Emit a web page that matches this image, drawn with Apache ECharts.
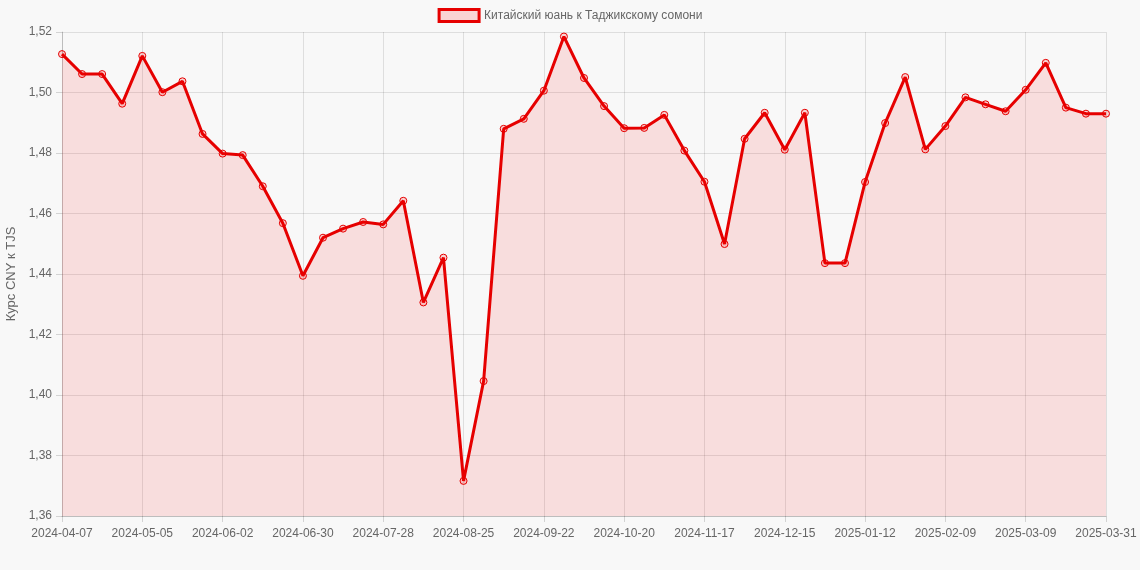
<!DOCTYPE html>
<html>
<head>
<meta charset="utf-8">
<script src="https://cdn.jsdelivr.net/npm/echarts@6/dist/echarts.min.js"></script>
<style>
html,body{margin:0;padding:0;background:#f8f8f8;}
#chart{width:1140px;height:570px;}
</style>
</head>
<body>
<div id="chart"></div>
<script>
const dates = [
  "2024-04-07","2024-04-14","2024-04-21","2024-04-28","2024-05-05","2024-05-12","2024-05-19","2024-05-26",
  "2024-06-02","2024-06-09","2024-06-16","2024-06-23","2024-06-30","2024-07-07","2024-07-14","2024-07-21",
  "2024-07-28","2024-08-04","2024-08-11","2024-08-18","2024-08-25","2024-09-01","2024-09-08","2024-09-15",
  "2024-09-22","2024-09-29","2024-10-06","2024-10-13","2024-10-20","2024-10-27","2024-11-03","2024-11-10",
  "2024-11-17","2024-11-24","2024-12-01","2024-12-08","2024-12-15","2024-12-22","2024-12-29","2025-01-05",
  "2025-01-12","2025-01-19","2025-01-26","2025-02-02","2025-02-09","2025-02-16","2025-02-23","2025-03-02",
  "2025-03-09","2025-03-16","2025-03-23","2025-03-30","2025-03-31"
];
const rates = [
  1.5127,1.5061,1.5061,1.4963,1.5121,1.5001,1.5037,1.4863,
  1.4798,1.4793,1.4690,1.4568,1.4394,1.4520,1.4550,1.4572,
  1.4564,1.4642,1.4306,1.4454,1.3716,1.4046,1.4880,1.4913,
  1.5006,1.5185,1.5048,1.4955,1.4882,1.4883,1.4926,1.4808,
  1.4705,1.4499,1.4847,1.4933,1.4811,1.4933,1.4436,1.4436,
  1.4704,1.4899,1.5051,1.4812,1.4889,1.4984,1.4961,1.4938,
  1.5009,1.5098,1.4950,1.4930,1.4930
];
const seriesName = "Китайский юань к Таджикскому сомони";
const yAxisTitle = "Курс CNY к TJS";

const chart = echarts.init(document.getElementById('chart'), null, {renderer:'canvas'});
const font = "'Liberation Sans', Arial, Helvetica, sans-serif";
chart.setOption({
  backgroundColor: '#f8f8f8',
  animation: false,
  textStyle: {fontFamily: font},
  legend: {
    top: 3,
    left: 'center',
    icon: 'rect',
    itemWidth: 40,
    itemHeight: 12,
    itemGap: 10,
    itemStyle: {color: 'rgba(255,0,0,0.15)', borderColor: '#e60000', borderWidth: 3},
    textStyle: {color: '#666', fontSize: 12, fontFamily: font},
    data: [seriesName]
  },
  grid: {left: 62, right: 34, top: 32, bottom: 54, containLabel: false, outerBoundsMode: 'none'},
  xAxis: {
    type: 'category',
    data: dates,
    boundaryGap: false,
    axisLine: {show: true, lineStyle: {color: 'rgba(0,0,0,0.15)'}},
    axisTick: {show: true, interval: 3, length: 6, lineStyle: {color: 'rgba(0,0,0,0.15)'}},
    axisLabel: {interval: 3, color: '#666', fontSize: 12, margin: 12, fontFamily: font},
    splitLine: {show: true, interval: 3, lineStyle: {color: 'rgba(0,0,0,0.1)'}}
  },
  yAxis: {
    type: 'value',
    min: 1.36,
    max: 1.52,
    interval: 0.02,
    name: yAxisTitle,
    nameLocation: 'middle',
    nameRotate: 90,
    nameGap: 43,
    nameTextStyle: {color: '#666', fontSize: 13, fontFamily: font},
    axisLine: {show: true, lineStyle: {color: 'rgba(0,0,0,0.15)'}},
    axisTick: {show: true, length: 6, lineStyle: {color: 'rgba(0,0,0,0.15)'}},
    axisLabel: {
      color: '#666', fontSize: 12, margin: 10, fontFamily: font,
      formatter: v => v.toFixed(2).replace('.', ',')
    },
    splitLine: {show: true, lineStyle: {color: 'rgba(0,0,0,0.1)'}}
  },
  series: [{
    name: seriesName,
    type: 'line',
    data: rates,
    smooth: false,
    symbol: 'circle',
    symbolSize: 7,
    showAllSymbol: true,
    lineStyle: {color: '#e60000', width: 3},
    itemStyle: {color: 'rgba(255,0,0,0.15)', borderColor: '#e60000', borderWidth: 1},
    areaStyle: {color: 'rgba(255,0,0,0.15)'}
  }]
});
</script>
</body>
</html>
